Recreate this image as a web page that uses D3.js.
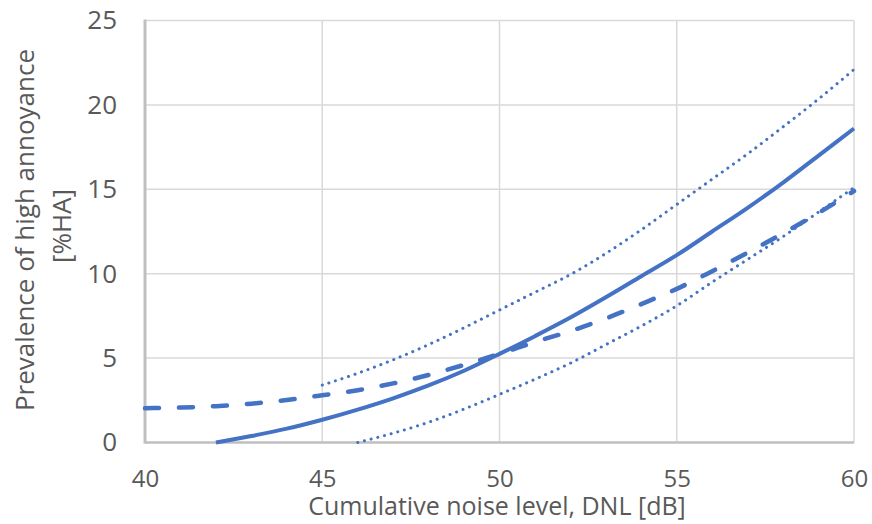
<!DOCTYPE html>
<html><head><meta charset="utf-8">
<script src="https://cdn.jsdelivr.net/npm/d3@7"></script>
<style>
html,body{margin:0;padding:0;background:#fff;}
svg text{font-family:"Open Sans",sans-serif;fill:#595959;}
</style></head>
<body>
<svg id="chart" width="872" height="524"></svg>
<script>
// ---- data ----
const xTicks = [40, 45, 50, 55, 60];
const yTicks = [0, 5, 10, 15, 20, 25];

const solidX = [42,43,44,45,46,47,48,49,50,51,52,53,54,55,56,57,58,59,60];
const solidY = [0,0.38,0.82,1.35,1.95,2.62,3.38,4.25,5.25,6.3,7.4,8.6,9.85,11.1,12.5,13.9,15.4,17.0,18.6];

const dashX = [40,41,42,43,44,45,46,47,48,49,50,51,52,53,54,55,56,57,58,59,60];
const dashY = [2.03,2.07,2.15,2.3,2.52,2.8,3.1,3.5,4.0,4.6,5.25,5.95,6.6,7.35,8.2,9.1,10.15,11.25,12.4,13.6,14.9];

const upperX = [45,46,47,48,49,50,51,52,53,54,55,56,57,58,59,60];
const upperY = [3.4,4.1,4.9,5.8,6.8,7.85,8.9,9.95,11.2,12.6,14.1,15.6,17.1,18.7,20.35,22.1];

const lowerX = [46,47,48,49,50,51,52,53,54,55,56,57,58,59,60];
const lowerY = [0,0.55,1.2,1.98,2.85,3.75,4.7,5.8,6.9,8.1,9.5,10.85,12.2,13.65,15.1];

const xTitle = "Cumulative noise level, DNL [dB]";
const yTitle1 = "Prevalence of high annoyance";
const yTitle2 = "[%HA]";

// ---- drawing ----
const svg = d3.select("#chart");
const L = 145, R = 854, T = 20.5, B = 442.5;
const x = d3.scaleLinear().domain([40, 60]).range([L, R]);
const y = d3.scaleLinear().domain([0, 25]).range([B, T]);
const blue = "#4472C4";
const FS = 26;

// gridlines
svg.append("g").selectAll("line").data(yTicks.filter(d => d > 0)).join("line")
  .attr("x1", L).attr("x2", R).attr("y1", d => y(d)).attr("y2", d => y(d))
  .attr("stroke", "#d9d9d9").attr("stroke-width", 1.5);
svg.append("g").selectAll("line").data(xTicks.filter(d => d > 40)).join("line")
  .attr("x1", d => x(d)).attr("x2", d => x(d)).attr("y1", T).attr("y2", B)
  .attr("stroke", "#d9d9d9").attr("stroke-width", 1.5);

// axes lines
svg.append("line").attr("x1", L).attr("x2", R).attr("y1", B).attr("y2", B)
  .attr("stroke", "#bfbfbf").attr("stroke-width", 2.5);
svg.append("line").attr("x1", L).attr("x2", L).attr("y1", T - 1).attr("y2", B + 1)
  .attr("stroke", "#bfbfbf").attr("stroke-width", 3);

// tick labels via axes
const yAxis = svg.append("g").attr("transform", `translate(${L},0)`)
  .call(d3.axisLeft(y).tickValues(yTicks).tickSize(0).tickPadding(28));
const xAxis = svg.append("g").attr("transform", `translate(0,${B})`)
  .call(d3.axisBottom(x).tickValues(xTicks).tickSize(0).tickPadding(27));
[yAxis, xAxis].forEach(a => {
  a.select(".domain").remove();
  a.selectAll("text").attr("font-size", FS).attr("font-family", "Open Sans").attr("fill", "#595959");
});
xAxis.selectAll("text").attr("font-size", 24);

// titles
svg.append("text").attr("x", 497).attr("y", 515).attr("text-anchor", "middle")
  .attr("font-size", 25).text(xTitle);
svg.append("text").attr("transform", "translate(34,230) rotate(-90)")
  .attr("text-anchor", "middle").attr("font-size", FS).text(yTitle1);
svg.append("text").attr("transform", "translate(71,226) rotate(-90)")
  .attr("text-anchor", "middle").attr("font-size", FS).text(yTitle2);

// curves
const line = d3.line().x(d => x(d[0])).y(d => y(d[1])).curve(d3.curveMonotoneX);
const plot = svg.append("g");
function draw(xs, ys, w, dash, cap) {
  plot.append("path").datum(xs.map((v, i) => [v, ys[i]]))
    .attr("d", line).attr("fill", "none").attr("stroke", blue)
    .attr("stroke-width", w).attr("stroke-dasharray", dash)
    .attr("stroke-linecap", cap);
}
draw(upperX, upperY, 3, "0.1 6.8", "round");
draw(lowerX, lowerY, 3, "0.1 6.8", "round");
draw(dashX, dashY, 4.5, "14 20", "round");
draw(solidX, solidY, 4, null, "butt");
</script>
</body></html>
